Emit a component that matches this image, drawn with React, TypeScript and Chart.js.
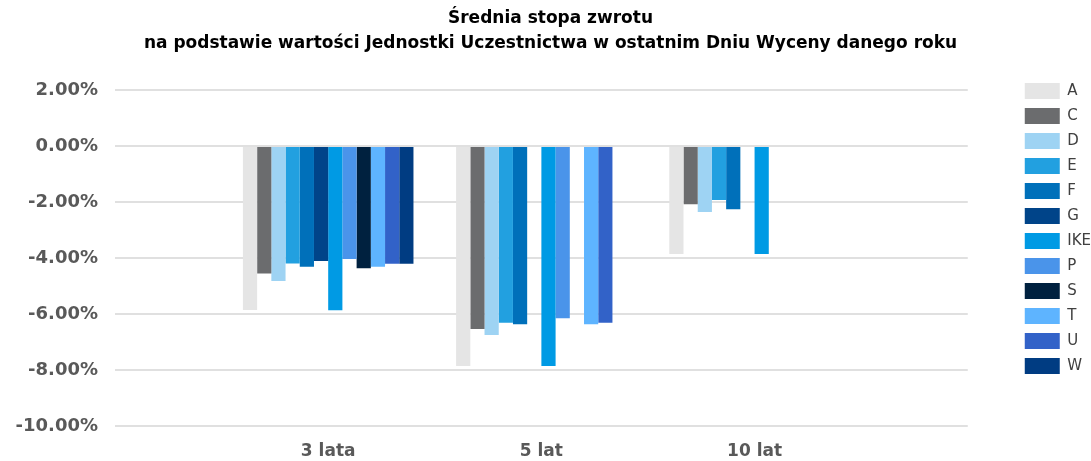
import React, { useEffect, useRef } from 'react';
import { Chart, registerables } from 'chart.js';

Chart.register(...registerables);

// ---- data ----
const titleLines = [
  'Średnia stopa zwrotu',
  'na podstawie wartości Jednostki Uczestnictwa w ostatnim Dniu Wyceny danego roku',
];
const categories = ['3 lata', '5 lat', '10 lat'];
const yTickValues = [2, 0, -2, -4, -6, -8, -10];

const seriesNames = ['A', 'C', 'D', 'E', 'F', 'G', 'IKE', 'P', 'S', 'T', 'U', 'W'];
const seriesColors = [
  '#E5E5E5', '#6B6C6E', '#9ED3F3', '#22A0E0', '#0070BA', '#004489',
  '#009AE4', '#4A94EA', '#00213F', '#5EB4FF', '#3262C8', '#003C82',
];

const valuesA = [-5.86, -7.86, -3.86];
const valuesC = [-4.55, -6.54, -2.08];
const valuesD = [-4.82, -6.75, -2.36];
const valuesE = [-4.2, -6.31, -1.93];
const valuesF = [-4.31, -6.37, -2.26];
const valuesG = [-4.11, null, null];
const valuesIKE = [-5.87, -7.86, -3.86];
const valuesP = [-4.04, -6.15, null];
const valuesS = [-4.37, null, null];
const valuesT = [-4.31, -6.37, null];
const valuesU = [-4.21, -6.31, null];
const valuesW = [-4.21, null, null];

const seriesValues = [
  valuesA, valuesC, valuesD, valuesE, valuesF, valuesG,
  valuesIKE, valuesP, valuesS, valuesT, valuesU, valuesW,
];

const FONT = 'DejaVu Sans';

export default function App() {
  const ref = useRef<HTMLCanvasElement>(null);

  useEffect(() => {
    if (!ref.current) return;
    // category slots are padded with empty labels so the groups sit on the
    // internal divisions of the plot, like the original spreadsheet chart
    const labels = ['', ...categories, ''];
    const datasets = seriesNames.map((name, i) => ({
      label: name,
      data: [null, ...seriesValues[i], null],
      backgroundColor: seriesColors[i],
      borderWidth: 0,
      barPercentage: 1,
      categoryPercentage: 0.8,
    }));

    const chart = new Chart(ref.current, {
      type: 'bar',
      data: { labels, datasets },
      options: {
        animation: false,
        responsive: false,
        layout: { padding: { left: 0, right: -10, top: 0, bottom: 4 } },
        plugins: {
          title: {
            display: true,
            text: titleLines,
            color: '#000000',
            font: { family: FONT, size: 17, weight: 'bold', lineHeight: 1.47 },
            padding: { top: 6, bottom: 34 },
          },
          legend: {
            position: 'right',
            labels: {
              boxWidth: 35,
              boxHeight: 16,
              padding: 9,
              color: '#404040',
              font: { family: FONT, size: 15 },
            },
          },
          tooltip: { enabled: false },
        },
        scales: {
          x: {
            offset: false,
            grid: { display: false, offset: false, drawTicks: false },
            border: { display: false },
            ticks: {
              autoSkip: false,
              maxRotation: 0,
              padding: 15,
              color: '#595959',
              font: { family: FONT, size: 17, weight: 'bold' },
            },
            afterFit: (s: any) => { s.height = 31; },
          },
          y: {
            min: -10,
            max: 2,
            afterBuildTicks: (s: any) => { s.ticks = yTickValues.map((v) => ({ value: v })); },
            grid: { color: '#E0E0E0', lineWidth: 2, drawTicks: false },
            border: { display: false },
            ticks: {
              padding: 17,
              color: '#595959',
              font: { family: FONT, size: 18, weight: 'bold' },
              callback: (v: any) => Number(v).toFixed(2) + '%',
            },
            afterFit: (s: any) => { s.width = 115; },
          },
          y2: {
            position: 'right',
            display: true,
            grid: { display: false, drawOnChartArea: false, drawTicks: false },
            border: { display: false },
            ticks: { display: false },
            afterFit: (s: any) => { s.width = 48; },
          },
        },
      },
    } as any);
    return () => chart.destroy();
  }, []);

  return (
    <div style={{ position: 'fixed', left: 0, top: 0, width: 1091, height: 461, background: '#fff' }}>
      <canvas ref={ref} width={1091} height={461} />
    </div>
  );
}
